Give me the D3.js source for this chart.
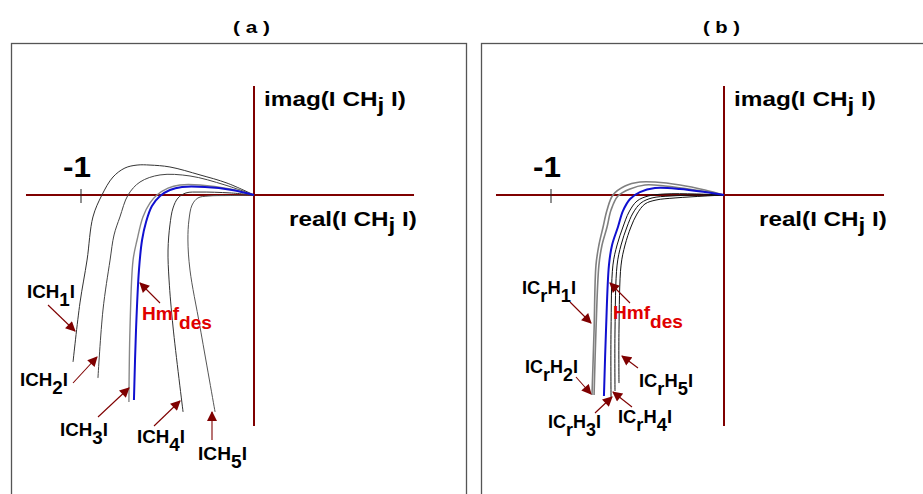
<!DOCTYPE html>
<html>
<head>
<meta charset="utf-8">
<script src="https://cdn.jsdelivr.net/npm/d3@7"></script>
<style>
  html, body { margin: 0; padding: 0; background: #fff; }
  svg { display: block; }
</style>
</head>
<body>
<svg id="chart" width="923" height="494"></svg>
<script>
// Nyquist-style loci [real, imag] for the individual channels and the design target.
// Panel (a): unrestricted channels ICH1..ICH5
const ICH1 = [[-1.046,-0.965],[-1.006,-0.624],[-0.965,-0.376],[-0.931,-0.127],[-0.879,0],[-0.815,0.104],[-0.746,0.156],[-0.676,0.173],[-0.601,0.173],[-0.486,0.162],[-0.312,0.116],[-0.156,0.069],[0,0]];
const ICH2 = [[-0.902,-1.058],[-0.873,-0.665],[-0.832,-0.376],[-0.809,-0.231],[-0.775,-0.127],[-0.728,0],[-0.659,0.075],[-0.543,0.116],[-0.370,0.110],[-0.168,0.058],[0,0]];
const ICH3 = [[-0.723,-1.197],[-0.717,-0.780],[-0.699,-0.376],[-0.676,-0.260],[-0.642,-0.127],[-0.601,-0.046],[-0.561,0],[-0.497,0.040],[-0.428,0.058],[-0.312,0.058],[-0.139,0.035],[0,0]];
const ICH4 = [[-0.410,-1.254],[-0.468,-0.763],[-0.491,-0.491],[-0.497,-0.318],[-0.486,-0.173],[-0.468,-0.075],[-0.439,-0.017],[-0.393,0.012],[-0.312,0.017],[-0.139,0.012],[0,0]];
const ICH5 = [[-0.225,-1.254],[-0.312,-0.763],[-0.370,-0.434],[-0.382,-0.260],[-0.376,-0.145],[-0.358,-0.058],[-0.324,-0.017],[-0.266,-0.006],[-0.139,-0.003],[0,0]];
const HMF_A = [[-0.694,-1.185],[-0.682,-0.780],[-0.665,-0.434],[-0.647,-0.260],[-0.624,-0.156],[-0.590,-0.064],[-0.543,-0.006],[-0.486,0.029],[-0.416,0.046],[-0.283,0.046],[-0.127,0.029],[0,0]];

// Panel (b): restricted channels ICrH1..ICrH5
const ICRH1 = [[-0.763,-1.156],[-0.751,-0.780],[-0.740,-0.405],[-0.723,-0.289],[-0.699,-0.185],[-0.676,-0.087],[-0.642,0],[-0.572,0.052],[-0.486,0.075],[-0.399,0.075],[-0.254,0.058],[-0.110,0.029],[0,0]];
const ICRH2 = [[-0.751,-1.156],[-0.740,-0.780],[-0.723,-0.405],[-0.705,-0.289],[-0.676,-0.185],[-0.653,-0.087],[-0.613,-0.006],[-0.543,0.035],[-0.457,0.058],[-0.341,0.052],[-0.168,0.029],[0,0]];
const ICRH3 = [[-0.653,-1.168],[-0.653,-0.780],[-0.642,-0.405],[-0.618,-0.289],[-0.584,-0.185],[-0.549,-0.098],[-0.503,-0.035],[-0.439,-0.006],[-0.341,0.006],[-0.168,0.006],[0,0]];
const ICRH4 = [[-0.630,-1.133],[-0.630,-0.780],[-0.618,-0.405],[-0.595,-0.289],[-0.561,-0.185],[-0.526,-0.104],[-0.480,-0.046],[-0.416,-0.017],[-0.312,-0.006],[-0.139,0],[0,0]];
const ICRH5 = [[-0.607,-1.087],[-0.607,-0.780],[-0.595,-0.405],[-0.572,-0.289],[-0.538,-0.185],[-0.503,-0.110],[-0.457,-0.052],[-0.393,-0.029],[-0.283,-0.017],[-0.110,-0.006],[0,0]];
const HMF_B = [[-0.694,-1.162],[-0.682,-0.780],[-0.665,-0.405],[-0.647,-0.289],[-0.613,-0.185],[-0.584,-0.092],[-0.543,-0.023],[-0.486,0.017],[-0.399,0.040],[-0.254,0.035],[-0.110,0.017],[0,0]];

const panelTitles = ["( a )", "( b )"];
const tickValues = [-1];
const tickLabels = ["-1"];
const realExtent = [-1.318, 0.925];
const imagExtent = [-1.335, 0.63];

const FONT = "'Liberation Sans', Arial, Helvetica, sans-serif";
const AXIS_RED = "#7f0000";

const svg = d3.select("#chart");

// Shared scales (each panel is a translated copy)
const x = d3.scaleLinear().domain([-1, 0]).range([81, 254]);
const y = d3.scaleLinear().domain([0, 1]).range([195, 22]);

const line = d3.line()
  .x(d => x(d[0]))
  .y(d => y(d[1]))
  .curve(d3.curveCatmullRom.alpha(0.5));

svg.append("defs").append("marker")
  .attr("id", "head")
  .attr("viewBox", "0 0 10 10")
  .attr("refX", 9).attr("refY", 5)
  .attr("markerUnits", "userSpaceOnUse")
  .attr("markerWidth", 11).attr("markerHeight", 10)
  .attr("orient", "auto")
  .append("path").attr("d", "M0,0 L10,5 L0,10 Z").attr("fill", AXIS_RED);

// Bold text made of plain and subscripted pieces, stretched to a given width
function richLabel(g, parts, o) {
  const t = g.append("text")
    .attr("font-family", FONT)
    .attr("font-weight", "bold")
    .attr("font-size", o.size)
    .attr("fill", o.color || "#000");
  let shifted = 0;
  parts.forEach(p => {
    const s = p.sub ? (o.subShift || 7) : 0;
    t.append("tspan").attr("dy", s - shifted).text(p.t);
    shifted = s;
  });
  const bb = t.node().getBBox();
  const sx = o.width ? o.width / bb.width : 1;
  t.attr("x", -bb.x)
   .attr("transform", `translate(${o.x},${o.y}) scale(${sx},1)`);
  return t;
}

function arrow(g, a, b) {
  g.append("line")
    .attr("x1", a[0]).attr("y1", a[1])
    .attr("x2", b[0]).attr("y2", b[1])
    .attr("stroke", AXIS_RED)
    .attr("stroke-width", 1.1)
    .attr("marker-end", "url(#head)");
}

function drawPanel(offsetX, title, series, labels) {
  const g = svg.append("g").attr("transform", `translate(${offsetX},0)`);

  // frame
  g.append("rect")
    .attr("x", 11.5).attr("y", 43.5)
    .attr("width", 455).attr("height", 470)
    .attr("fill", "none").attr("stroke", "#555").attr("stroke-width", 1.3);

  // title
  richLabel(g, [{ t: title }], { x: 233, y: 33, size: 16, width: 37 });

  // real / imaginary axes through the origin
  g.append("line")
    .attr("x1", x(realExtent[0])).attr("x2", x(realExtent[1]))
    .attr("y1", y(0)).attr("y2", y(0))
    .attr("stroke", AXIS_RED).attr("stroke-width", 2);
  g.append("line")
    .attr("x1", x(0)).attr("x2", x(0))
    .attr("y1", y(imagExtent[0])).attr("y2", y(imagExtent[1]))
    .attr("stroke", AXIS_RED).attr("stroke-width", 2);

  // the -1 critical point tick
  tickValues.forEach((v, i) => {
    g.append("line")
      .attr("x1", x(v)).attr("x2", x(v))
      .attr("y1", y(0) - 6).attr("y2", y(0) + 8)
      .attr("stroke", "#222").attr("stroke-width", 1);
    richLabel(g, [{ t: tickLabels[i] }], { x: x(v) - 18, y: 177, size: 30, width: 28 });
  });

  richLabel(g, [{ t: "imag(I CH" }, { t: "j", sub: true }, { t: " I)" }],
    { x: 264, y: 106, size: 21, width: 142, subShift: 6 });
  richLabel(g, [{ t: "real(I CH" }, { t: "j", sub: true }, { t: " I)" }],
    { x: 289, y: 226, size: 21, width: 128, subShift: 6 });

  // loci
  series.forEach(s => {
    g.append("path")
      .attr("d", line(s.data))
      .attr("fill", "none")
      .attr("stroke", s.color)
      .attr("stroke-width", s.width)
      .attr("stroke-linejoin", "round");
  });

  // annotations
  labels.forEach(l => {
    richLabel(g, l.parts, { x: l.x, y: l.y, size: 19, width: l.w, color: l.color, subShift: l.shift || 8 });
    arrow(g, l.from, l.to);
  });
}

drawPanel(0, panelTitles[0], [
  { data: ICH1, color: "#333", width: 1 },
  { data: ICH2, color: "#444", width: 1 },
  { data: ICH3, color: "#888", width: 1.4 },
  { data: ICH4, color: "#333", width: 1 },
  { data: ICH5, color: "#555", width: 1 },
  { data: HMF_A, color: "#1010d0", width: 2 }
], [
  { parts: [{ t: "ICH" }, { t: "1", sub: true }, { t: "I" }], x: 27, y: 298, w: 48, from: [48, 305], to: [75, 331] },
  { parts: [{ t: "ICH" }, { t: "2", sub: true }, { t: "I" }], x: 20, y: 386, w: 48, from: [73, 383], to: [97, 357] },
  { parts: [{ t: "ICH" }, { t: "3", sub: true }, { t: "I" }], x: 60, y: 436, w: 48, from: [98, 417], to: [129, 388] },
  { parts: [{ t: "ICH" }, { t: "4", sub: true }, { t: "I" }], x: 137, y: 443, w: 48, from: [154, 426], to: [180, 401] },
  { parts: [{ t: "ICH" }, { t: "5", sub: true }, { t: "I" }], x: 198, y: 460, w: 49, from: [212, 440], to: [212, 412] },
  { parts: [{ t: "Hmf" }, { t: "des", sub: true }], x: 142, y: 320, w: 70, color: "#e00000", shift: 9, from: [160, 303], to: [140, 283] }
]);

drawPanel(470, panelTitles[1], [
  { data: ICRH1, color: "#808080", width: 1.6 },
  { data: ICRH2, color: "#808080", width: 1.6 },
  { data: ICRH3, color: "#111", width: 1 },
  { data: ICRH4, color: "#111", width: 1 },
  { data: ICRH5, color: "#111", width: 1 },
  { data: HMF_B, color: "#1010d0", width: 2 }
], [
  { parts: [{ t: "IC" }, { t: "r", sub: true }, { t: "H" }, { t: "1", sub: true }, { t: "I" }], x: 52, y: 294, w: 54, from: [100, 302], to: [121, 323] },
  { parts: [{ t: "IC" }, { t: "r", sub: true }, { t: "H" }, { t: "2", sub: true }, { t: "I" }], x: 55, y: 373, w: 53, from: [106, 377], to: [121, 394] },
  { parts: [{ t: "IC" }, { t: "r", sub: true }, { t: "H" }, { t: "3", sub: true }, { t: "I" }], x: 78, y: 428, w: 53, from: [125, 413], to: [142, 397] },
  { parts: [{ t: "IC" }, { t: "r", sub: true }, { t: "H" }, { t: "4", sub: true }, { t: "I" }], x: 148, y: 423, w: 54, from: [162, 407], to: [143, 392] },
  { parts: [{ t: "IC" }, { t: "r", sub: true }, { t: "H" }, { t: "5", sub: true }, { t: "I" }], x: 169, y: 387, w: 54, from: [168, 368], to: [152, 356] },
  { parts: [{ t: "Hmf" }, { t: "des", sub: true }], x: 143, y: 319, w: 70, color: "#e00000", shift: 9, from: [160, 303], to: [140, 283] }
]);
</script>
</body>
</html>
